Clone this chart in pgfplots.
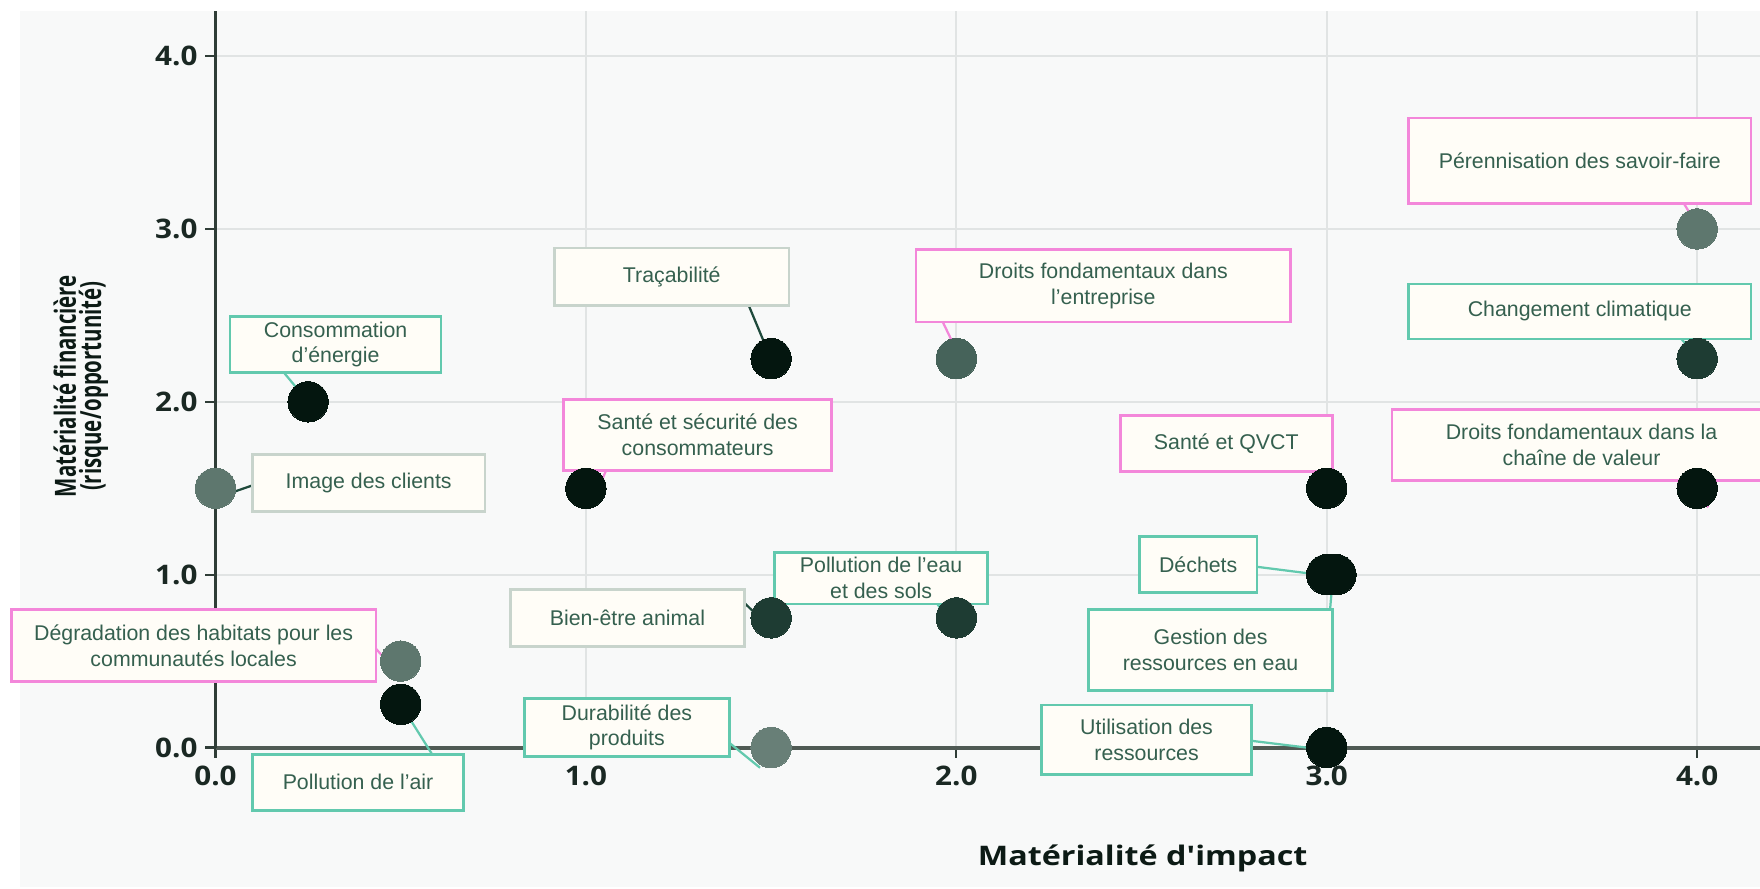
\documentclass[border=0pt]{standalone}
\usepackage{fontspec}
\usepackage{pgfplots}
\pgfplotsset{compat=1.18}
\setmainfont{Liberation Sans}
\newfontfamily\boxfam{Liberation Sans}
\newfontfamily\tickfam{Open Sans}[FakeStretch=1.1]
\newfontfamily\xtitlefam{Open Sans}[FakeStretch=1.2,Ligatures=TeXOff]
\newfontfamily\ytitlefam{Open Sans}[FakeStretch=0.7]
\newcommand{\bfnt}{\boxfam\fontsize{9.5}{11.5}\selectfont}
\newcommand{\tickfont}{\tickfam\bfseries\fontsize{12}{14}\selectfont}
\newcommand{\xtitlefont}{\xtitlefam\bfseries\fontsize{12}{14}\selectfont}
\newcommand{\ytitlefont}{\ytitlefam\bfseries\fontsize{13}{11.2}\selectfont}
\definecolor{panel}{HTML}{F8F9F9}
\definecolor{gridc}{HTML}{E1E4E4}
\definecolor{cteal}{HTML}{62C9AE}
\definecolor{cpink}{HTML}{F387DA}
\definecolor{cgrayb}{HTML}{C8D4CC}
\definecolor{cline}{HTML}{1F4A3C}
\definecolor{boxfill}{HTML}{FFFDF7}
\definecolor{boxtxt}{HTML}{35604F}
\definecolor{tickc}{HTML}{1A2823}
\definecolor{titlec}{HTML}{0C1A15}
\definecolor{xaxc}{HTML}{4F5A54}
\definecolor{yaxc}{HTML}{2F3D37}
\definecolor{dblack}{HTML}{04160F}
\definecolor{ddark}{HTML}{1E3C33}
\definecolor{dmid}{HTML}{46635A}
\definecolor{dgray}{HTML}{5E776E}
\definecolor{dlight}{HTML}{687F77}
\tikzset{lbl/.style={draw, fill=boxfill, line width=1.2pt, inner sep=0pt, align=center, font=\bfnt, text=boxtxt}}
\pgfplotsset{dot/.style={only marks, mark=*, mark size=9pt, color=#1, mark options={draw=#1, fill=#1, line width=0pt}}}
\begin{document}
\begin{tikzpicture}
\path[use as bounding box] (0,0) rectangle (784pt,396pt);
\fill[panel] (9pt,1pt) rectangle (784pt,391pt);
\begin{axis}[
  at={(96pt,63pt)}, anchor=south west,
  x=165pt, y=77pt,
  xmin=0, xmax=4.17, ymin=0, ymax=4.26,
  enlargelimits=false,
  axis lines=left,
  axis line style={-},
  x axis line style={line width=1.8pt, draw=xaxc},
  y axis line style={line width=1pt, draw=yaxc},
  xtick={0,1,2,3,4}, xticklabels={0.0,1.0,2.0,3.0,4.0},
  ytick={0,1,2,3,4}, yticklabels={0.0,1.0,2.0,3.0,4.0},
  ticklabel style={font=\tickfont, text=tickc},
  tick align=outside,
  major tick length=4.5pt,
  tick style={line width=1pt, color=yaxc},
  grid=major,
  grid style={gridc, line width=1pt},
  clip=false,
]
% dots
\addplot[dot=dblack]
  coordinates {(0.25,2) (0.5,0.25) (1.5,2.25) (1,1.5) (3,1.5) (3,1) (3.025,1) (3,0) (4,1.5)};
\addplot[dot=ddark]
  coordinates {(1.5,0.75) (2,0.75) (4,2.25)};
\addplot[dot=dmid]
  coordinates {(2,2.25)};
\addplot[dot=dgray]
  coordinates {(0,1.5) (0.5,0.5) (4,3)};
\addplot[dot=dlight]
  coordinates {(1.5,0)};
% connectors
\draw[cteal, line width=1pt] (axis cs:0.1848,2.1688) -- (axis cs:0.25,2.0);
\draw[cline, line width=1pt] (axis cs:0.1212,1.5325) -- (axis cs:0.01,1.45);
\draw[cpink, line width=1pt] (axis cs:0.4333,0.5714) -- (axis cs:0.5,0.409);
\draw[cteal, line width=1pt] (axis cs:0.5848,-0.039) -- (axis cs:0.5,0.25);
\draw[cline, line width=1pt] (axis cs:1.4394,2.5584) -- (axis cs:1.5,2.2468);
\draw[cpink, line width=1pt] (axis cs:1.0545,1.6039) -- (axis cs:1.0242,1.448);
\draw[cline, line width=1pt] (axis cs:1.4273,0.8377) -- (axis cs:1.509,0.6688);
\draw[cteal, line width=1pt] (axis cs:1.9485,0.8312) -- (axis cs:2.003,0.6688);
\draw[cteal, line width=1pt] (axis cs:1.388,0.026) -- (axis cs:1.470,-0.117);
\draw[cpink, line width=1pt] (axis cs:1.9636,2.461) -- (axis cs:2.0,2.2987);
\draw[cpink, line width=1pt] (axis cs:2.9697,1.597) -- (axis cs:3.015,1.4675);
\draw[cteal, line width=1pt] (axis cs:2.8121,1.0455) -- (axis cs:2.979,1.0);
\draw[cteal, line width=1pt] (axis cs:3.009,0.7987) -- (axis cs:3.015,0.948);
\draw[cteal, line width=1pt] (axis cs:2.797,0.039) -- (axis cs:2.994,-0.013);
\draw[cpink, line width=1pt] (axis cs:3.9636,3.149) -- (axis cs:4.024,2.94);
\draw[cteal, line width=1pt] (axis cs:3.9576,2.3636) -- (axis cs:4.03,2.18);
\draw[cpink, line width=1pt] (axis cs:3.9636,1.545) -- (axis cs:4.03,1.39);
% boxes
\node[lbl, draw=cteal, minimum width=94pt, minimum height=25pt] at (axis cs:0.3242,2.3312) {Consommation\\d’énergie};
\node[lbl, draw=cgrayb, minimum width=103.5pt, minimum height=25.5pt] at (axis cs:0.4136,1.5292) {Image des clients};
\node[lbl, draw=cpink, minimum width=162.5pt, minimum height=32pt] at (axis cs:-0.0591,0.5909) {Dégradation des habitats pour les\\communautés locales};
\node[lbl, draw=cteal, minimum width=94pt, minimum height=25pt] at (axis cs:0.3848,-0.2013) {Pollution de l’air};
\node[lbl, draw=cgrayb, minimum width=104.5pt, minimum height=25.5pt] at (axis cs:1.2318,2.724) {Traçabilité};
\node[lbl, draw=cpink, minimum width=119.5pt, minimum height=31.5pt] at (axis cs:1.3015,1.8084) {Santé et sécurité des\\consommateurs};
\node[lbl, draw=cgrayb, minimum width=104pt, minimum height=25.5pt] at (axis cs:1.1121,0.75) {Bien-être animal};
\node[lbl, draw=cteal, minimum width=95pt, minimum height=23pt] at (axis cs:1.797,0.9805) {Pollution de l’eau\\et des sols};
\node[lbl, draw=cteal, minimum width=91.5pt, minimum height=26pt] at (axis cs:1.1106,0.1169) {Durabilité des\\produits};
\node[lbl, draw=cpink, minimum width=167pt, minimum height=32.5pt] at (axis cs:2.397,2.672) {Droits fondamentaux dans\\l’entreprise};
\node[lbl, draw=cpink, minimum width=94.5pt, minimum height=25pt] at (axis cs:2.7288,1.7597) {Santé et QVCT};
\node[lbl, draw=cteal, minimum width=52.5pt, minimum height=25pt] at (axis cs:2.653,1.0584) {Déchets};
\node[lbl, draw=cteal, minimum width=108.5pt, minimum height=36pt] at (axis cs:2.6864,0.5649) {Gestion des\\ressources en eau};
\node[lbl, draw=cteal, minimum width=93.5pt, minimum height=31pt] at (axis cs:2.5136,0.0455) {Utilisation des\\ressources};
\node[lbl, draw=cpink, minimum width=152.5pt, minimum height=38pt] at (axis cs:3.6833,3.396) {Pérennisation des savoir-faire};
\node[lbl, draw=cteal, minimum width=152.5pt, minimum height=24.5pt] at (axis cs:3.6833,2.5227) {Changement climatique};
\node[lbl, draw=cpink, minimum width=169pt, minimum height=31.5pt] at (axis cs:3.6879,1.75) {Droits fondamentaux dans la\\chaîne de valeur};
\end{axis}
\node[font=\xtitlefont, text=titlec] at (509pt,13.5pt) {Matérialité d'impact};
\node[rotate=90, align=center, font=\ytitlefont, text=titlec] at (36pt,224pt) {Matérialité financière\\(risque/opportunité)};
\end{tikzpicture}
\end{document}
